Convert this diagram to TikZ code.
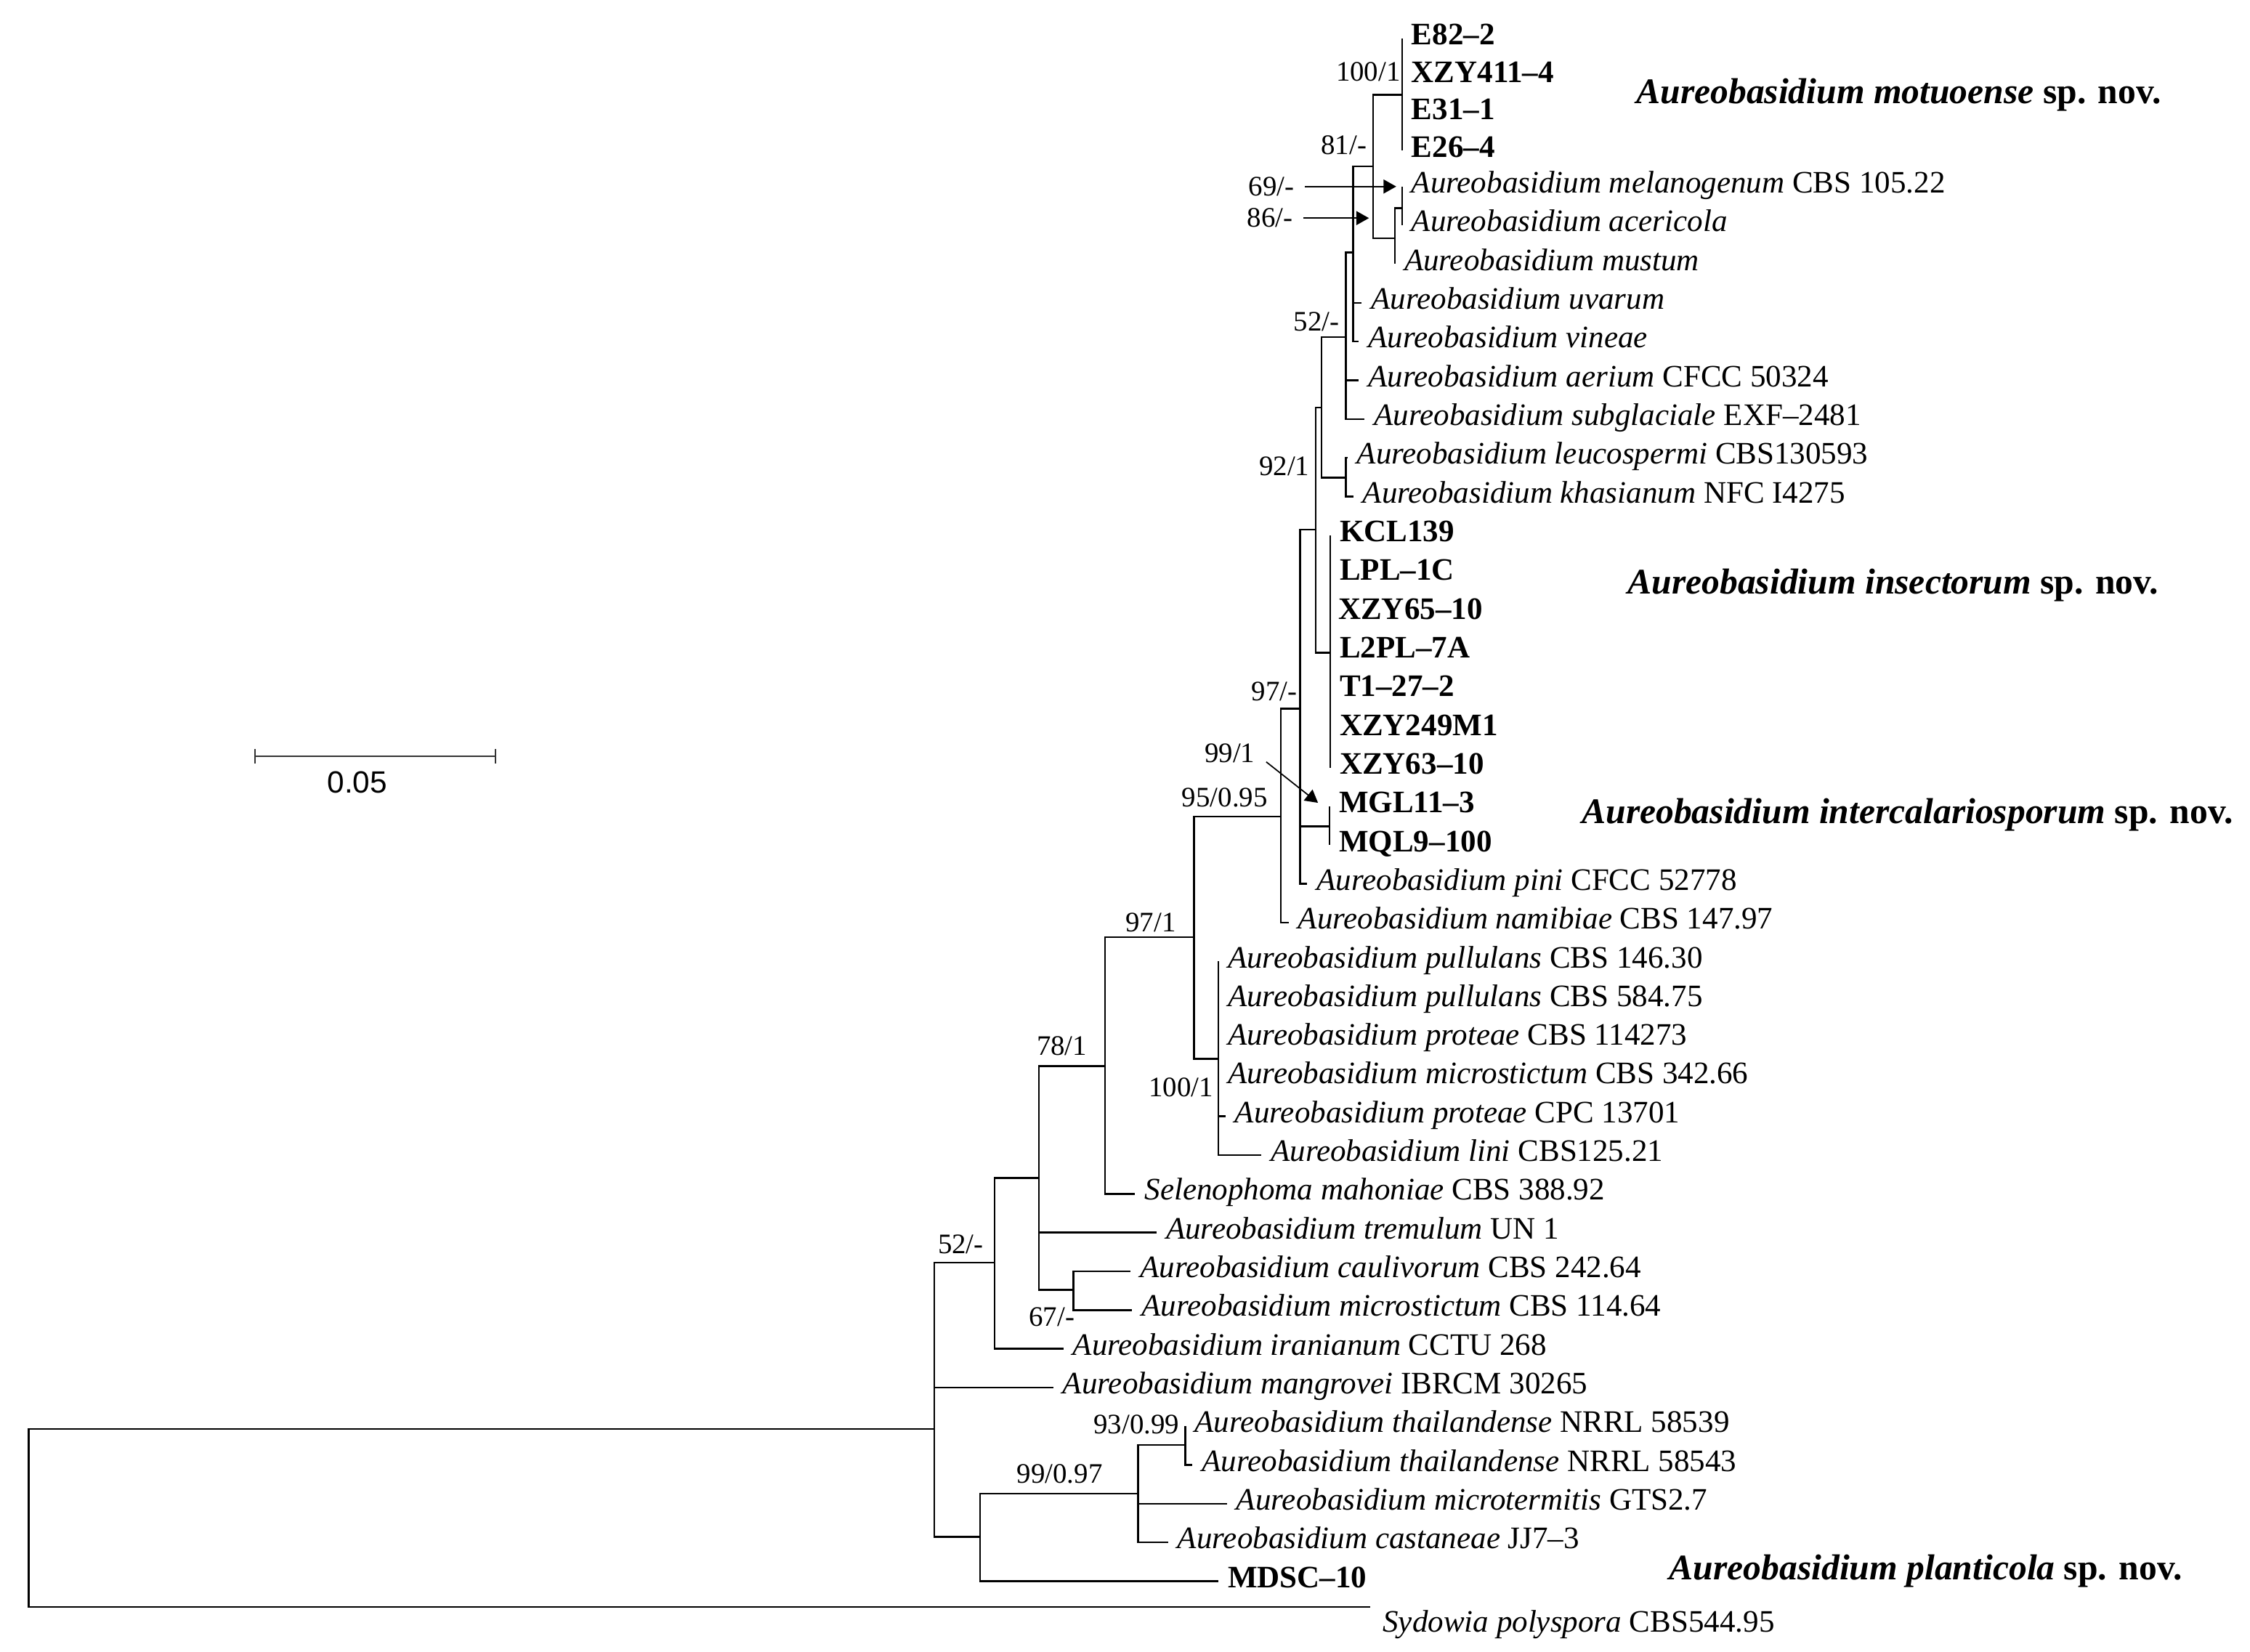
\documentclass[tikz,border=0pt]{standalone}
\usepackage{fontspec}
\setmainfont{Liberation Serif}
\newfontfamily\barfont{Liberation Sans}
\usetikzlibrary{arrows.meta}
\newcommand{\aureo}[1]{\textit{Aureobasidium #1}}

\begin{document}
\begin{tikzpicture}[
  x=0.02cm, y=-0.02cm,
  br/.style={line width=0.7pt},
  leaf/.style={anchor=west, inner xsep=3.6pt, inner ysep=0pt, text height=7.5pt, text depth=2.5pt,
              font=\fontsize{12.4pt}{14pt}\selectfont},
  strain/.style={leaf, font=\fontsize{12.4pt}{14pt}\selectfont\bfseries},
  sup/.style={inner sep=0pt, font=\fontsize{11.2pt}{13pt}\selectfont},
  clade/.style={anchor=west, inner sep=0pt, font=\fontsize{14.3pt}{16pt}\selectfont\bfseries},
  arr/.style={-{Triangle[length=5pt,width=5.5pt]}, line width=0.5pt},
  sbar/.style={{Bar[width=5.7pt]}-{Bar[width=5.7pt]}, line width=0.8pt, black!80}
]
\useasboundingbox (0,0) rectangle (1568,1151);

\coordinate (nRoot) at (20,1058);
\coordinate (nI)    at (651,996);
\coordinate (n52b)  at (693,880);
\coordinate (nS)    at (724,821);
\coordinate (n78)   at (770,743);
\coordinate (n97b)  at (832,653);
\coordinate (nQ)    at (849,738);
\coordinate (n95)   at (892.5,569);
\coordinate (nZ)    at (906,494);
\coordinate (nMG)   at (926.5,576);
\coordinate (nY)    at (917,369);
\coordinate (nIns)  at (927,455);
\coordinate (nW)    at (921,284);
\coordinate (nLK)   at (938,333);
\coordinate (nV)    at (938,235);
\coordinate (nU)    at (943,176);
\coordinate (n81)   at (957,116);
\coordinate (n100a) at (977,66);
\coordinate (nMu)   at (972,166);
\coordinate (nMA)   at (977,145);
\coordinate (n67)   at (748,899);
\coordinate (n99)   at (683,1071);
\coordinate (nTh)   at (793,1041);
\coordinate (n93)   at (826,1007);
\coordinate (tSyd)  at (955,1120);

\node[strain] (lf1)  at (977,27)  {E82–2};
\node[strain] (lf2)  at (977,53)  {XZY411–4};
\node[strain] (lf3)  at (977,79)  {E31–1};
\node[strain] (lf4)  at (977,105) {E26–4};
\node[leaf]   (lf5)  at (977,130) {\aureo{melanogenum} CBS 105.22};
\node[leaf]   (lf6)  at (977,157) {\aureo{acericola}};
\node[leaf]   (lf7)  at (972,184) {\aureo{mustum}};
\node[leaf]   (lf8)  at (949,211) {\aureo{uvarum}};
\node[leaf]   (lf9)  at (947,238) {\aureo{vineae}};
\node[leaf]   (lf10) at (947,265) {\aureo{aerium} CFCC 50324};
\node[leaf]   (lf11) at (951,292) {\aureo{subglaciale} EXF–2481};
\node[leaf]   (lf12) at (939,319) {\aureo{leucospermi} CBS130593};
\node[leaf]   (lf13) at (943,346) {\aureo{khasianum} NFC I4275};
\node[strain] (lf14) at (927,373) {KCL139};
\node[strain] (lf15) at (927,400) {LPL–1C};
\node[strain] (lf16) at (926,427) {XZY65–10};
\node[strain] (lf17) at (927,454) {L2PL–7A};
\node[strain] (lf18) at (927,481) {T1–27–2};
\node[strain] (lf19) at (927,508) {XZY249M1};
\node[strain] (lf20) at (927,535) {XZY63–10};
\node[strain] (lf21) at (926.5,562) {MGL11–3};
\node[strain] (lf22) at (926.5,589) {MQL9–100};
\node[leaf]   (lf23) at (911,616) {\aureo{pini} CFCC 52778};
\node[leaf]   (lf24) at (898,643) {\aureo{namibiae} CBS 147.97};
\node[leaf]   (lf25) at (849,670) {\aureo{pullulans} CBS 146.30};
\node[leaf]   (lf26) at (849,697) {\aureo{pullulans} CBS 584.75};
\node[leaf]   (lf27) at (849,724) {\aureo{proteae} CBS 114273};
\node[leaf]   (lf28) at (849,751) {\aureo{microstictum} CBS 342.66};
\node[leaf]   (lf29) at (854,778) {\aureo{proteae} CPC 13701};
\node[leaf]   (lf30) at (879,805) {\aureo{lini} CBS125.21};
\node[leaf]   (lf31) at (791,832) {\textit{Selenophoma mahoniae} CBS 388.92};
\node[leaf]   (lf32) at (806,859) {\aureo{tremulum} UN 1};
\node[leaf]   (lf33) at (788,886) {\aureo{caulivorum} CBS 242.64};
\node[leaf]   (lf34) at (789,913) {\aureo{microstictum} CBS 114.64};
\node[leaf]   (lf35) at (741,940) {\aureo{iranianum} CCTU 268};
\node[leaf]   (lf36) at (734,967) {\aureo{mangrovei} IBRCM 30265};
\node[leaf]   (lf37) at (826,994) {\aureo{thailandense} NRRL 58539};
\node[leaf]   (lf38) at (831,1021) {\aureo{thailandense} NRRL 58543};
\node[leaf]   (lf39) at (855,1048) {\aureo{microtermitis} GTS2.7};
\node[leaf]   (lf40) at (814,1075) {\aureo{castaneae} JJ7–3};
\node[strain] (lf41) at (849,1102) {MDSC–10};
\node[leaf]   (lf42) at (957,1133) {\textit{Sydowia polyspora} CBS544.95};

\node[clade] (cMot) at (1140,66)   {\aureo{motuoense} sp. nov.};
\node[clade] (cIns) at (1134,408)  {\aureo{insectorum} sp. nov.};
\node[clade] (cInt) at (1102,568)  {\aureo{intercalariosporum} sp. nov.};
\node[clade] (cPla) at (1163,1095) {\aureo{planticola} sp. nov.};

\node[sup] (s100a) at (953.5,50)  {100/1};
\node[sup] (s81)   at (936.5,101) {81/-};
\node[sup] (s69)   at (886,130)   {69/-};
\node[sup] (s86)   at (885,152)   {86/-};
\node[sup] (s52a)  at (917.5,224) {52/-};
\node[sup] (s92)   at (895,325)   {92/1};
\node[sup] (s97a)  at (888,482)   {97/-};
\node[sup] (s99)   at (857,525)   {99/1};
\node[sup] (s95)   at (853.5,556) {95/0.95};
\node[sup] (s97b)  at (802,643)   {97/1};
\node[sup] (s78)   at (740,729)   {78/1};
\node[sup] (s100b) at (823,758)   {100/1};
\node[sup] (s52b)  at (669.5,867) {52/-};
\node[sup] (s67)   at (733,918)   {67/-};
\node[sup] (s9399) at (792,993)   {93/0.99};
\node[sup] (s9997) at (738.5,1027) {99/0.97};

\coordinate (a69) at (973,130);
\coordinate (a86) at (954,152);
\coordinate (a99) at (918.5,559.5);

\draw[br] (nRoot) |- (nI) (nRoot) |- (tSyd);
\draw[br] (nI) |- (n52b) (nI) |- (lf36.west) (nI) |- (n99);
\draw[br] (n52b) |- (nS) (n52b) |- (lf35.west);
\draw[br] (nS) |- (n78) (nS) |- (lf32.west) (nS) |- (n67);
\draw[br] (n67) |- (lf33.west) (n67) |- (lf34.west);
\draw[br] (n78) |- (n97b) (n78) |- (lf31.west);
\draw[br] (n97b) |- (n95) (n97b) |- (nQ);
\draw[br] (nQ) |- (lf25.west) (nQ) |- (lf26.west) (nQ) |- (lf27.west)
          (nQ) |- (lf28.west) (nQ) |- (lf29.west) (nQ) |- (lf30.west);
\draw[br] (n95) |- (nZ) (n95) |- (lf24.west);
\draw[br] (nZ) |- (nY) (nZ) |- (nMG) (nZ) |- (lf23.west);
\draw[br] (nMG) |- (lf21.west) (nMG) |- (lf22.west);
\draw[br] (nY) |- (nW) (nY) |- (nIns);
\draw[br] (nIns) |- (lf14.west) (nIns) |- (lf20.west);
\draw[br] (nW) |- (nV) (nW) |- (nLK);
\draw[br] (nLK) |- (lf12.west) (nLK) |- (lf13.west);
\draw[br] (nV) |- (nU) (nV) |- (lf10.west) (nV) |- (lf11.west);
\draw[br] (nU) |- (n81) (nU) |- (lf8.west) (nU) |- (lf9.west);
\draw[br] (n81) |- (n100a) (n81) |- (nMu);
\draw[br] (n100a) |- (lf1.west) (n100a) |- (lf4.west);
\draw[br] (nMu) |- (nMA) (nMu) |- (lf7.west);
\draw[br] (nMA) |- (lf5.west) (nMA) |- (lf6.west);
\draw[br] (n99) |- (nTh) (n99) |- (lf41.west);
\draw[br] (nTh) |- (n93) (nTh) |- (lf39.west) (nTh) |- (lf40.west);
\draw[br] (n93) |- (lf37.west) (n93) |- (lf38.west);

\draw[arr, shorten <=4pt] (s69.east) -- (a69);
\draw[arr, shorten <=4pt] (s86.east) -- (a86);
\draw[arr, shorten <=5.5pt] (s99.east) -- (a99);

\coordinate (sbL) at (177,527);
\coordinate (sbR) at (346,527);
\draw[sbar] (sbL) -- (sbR);
\node[font=\barfont\fontsize{12.2pt}{14pt}\selectfont, inner sep=0pt] (sbLbl) at (249,545) {0.05};

\end{tikzpicture}
\end{document}
